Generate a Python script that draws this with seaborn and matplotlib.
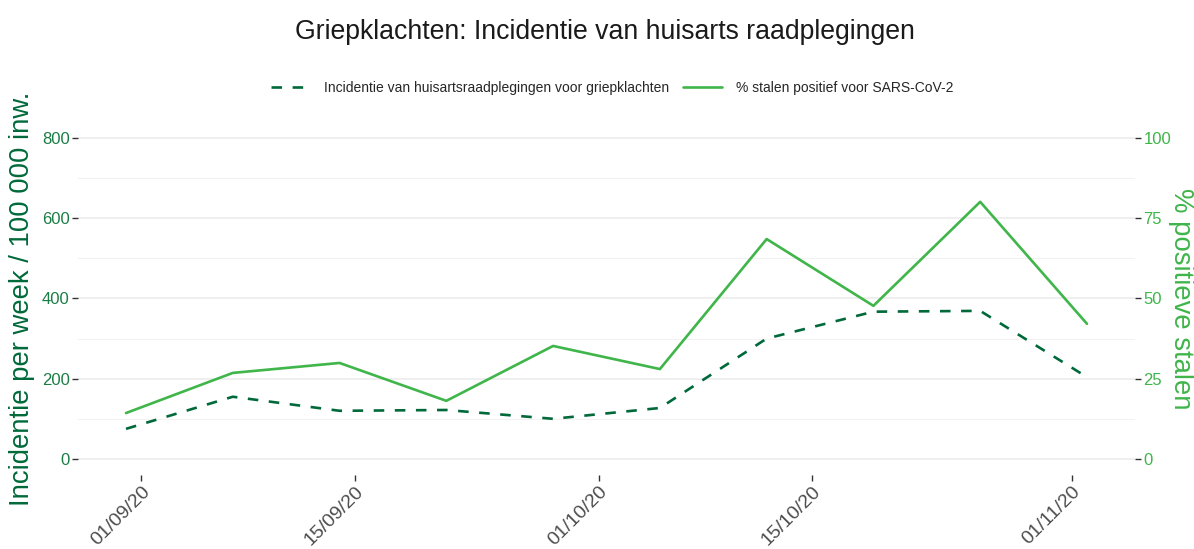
import pandas as pd
import numpy as np
import matplotlib
matplotlib.use("Agg")
import matplotlib.pyplot as plt
import matplotlib.dates as mdates
import seaborn as sns

weeks = ["2020-08-31", "2020-09-07", "2020-09-14", "2020-09-21", "2020-09-28",
         "2020-10-05", "2020-10-12", "2020-10-19", "2020-10-26", "2020-11-02"]
incidentie = [75, 155, 120, 122, 100, 127, 300, 367, 369, 204]
pct_positief = [14.3, 26.8, 29.9, 18.1, 35.2, 28.0, 68.5, 47.7, 80.1, 42.1]
tick_dates = ["2020-09-01", "2020-09-15", "2020-10-01", "2020-10-15", "2020-11-01"]

DARK = "#00693a"
LIGHT = "#3fb54a"
LEFT_TXT = "#1a7d45"

df = pd.DataFrame({"week": pd.to_datetime(weeks),
                   "incidentie": incidentie,
                   "positief": pct_positief})

sns.set_theme(style="white")
plt.rcParams["font.family"] = ["Liberation Sans", "DejaVu Sans"]

fig = plt.figure(figsize=(11.94, 5.49), dpi=100)
ax = fig.add_axes([0.0653, 0.1348, 0.8853, 0.6432])
ax2 = ax.twinx()

sns.lineplot(data=df, x="week", y="incidentie", ax=ax, color=DARK, linewidth=1.9,
             label="Incidentie van huisartsraadplegingen voor griepklachten", legend=False)
ax.lines[0].set_dashes((4, 4))
sns.lineplot(data=df, x="week", y="positief", ax=ax2, color=LIGHT, linewidth=1.9,
             label="% stalen positief voor SARS-CoV-2", legend=False)

ax.set_ylim(-40, 840)
ax2.set_ylim(-5, 105)
ax.set_yticks([0, 200, 400, 600, 800])
ax.set_yticks([100, 300, 500, 700], minor=True)
ax2.set_yticks([0, 25, 50, 75, 100])
ax.set_xlim(pd.Timestamp("2020-08-31") - pd.Timedelta(days=3.15),
            pd.Timestamp("2020-11-02") + pd.Timedelta(days=3.15))

ax.grid(axis="y", which="major", color="#ebebeb", linewidth=1.1)
ax.grid(axis="y", which="minor", color="#f2f2f2", linewidth=0.8)
ax.grid(axis="x", visible=False)
ax2.grid(False)
ax.set_axisbelow(True)
for a in (ax, ax2):
    for s in a.spines.values():
        s.set_visible(False)

ax.set_xticks(pd.to_datetime(tick_dates))
ax.xaxis.set_major_formatter(mdates.DateFormatter("%d/%m/%y"))
ax.tick_params(axis="x", length=4, width=1, color="#333333", labelsize=14,
               labelcolor="#4d4d4d", bottom=True, pad=2)
for lab in ax.get_xticklabels():
    lab.set_rotation(45)
    lab.set_ha("right")
    lab.set_rotation_mode("anchor")

ax.tick_params(axis="y", which="major", length=4, width=1, color="#333333",
               labelsize=12, labelcolor=LEFT_TXT, left=True, pad=2)
ax.tick_params(axis="y", which="minor", length=0, left=False)
ax2.tick_params(axis="y", length=4, width=1, color="#333333",
                labelsize=12, labelcolor=LIGHT, right=True, pad=2)

ax.set_xlabel("")
ax.set_ylabel("Incidentie per week / 100 000 inw.", fontsize=19.8, color=DARK,
              va="center", ha="center")
ax.yaxis.set_label_coords(-0.053, 0.5)
ax2.set_ylabel("% positieve stalen", fontsize=19.8, color=LIGHT, rotation=270,
               va="center", ha="center")
ax2.yaxis.set_label_coords(1.0435, 0.5)

fig.suptitle("Griepklachten: Incidentie van huisarts raadplegingen", x=0.507, y=0.965,
             fontsize=19.2, color="#1a1a1a")

h1, l1 = ax.get_legend_handles_labels()
h2, l2 = ax2.get_legend_handles_labels()
fig.legend(h1 + h2, l1 + l2, loc="center", bbox_to_anchor=(0.513, 0.84), ncol=2,
           frameon=False, fontsize=10, handlelength=2.8, columnspacing=1.0, handletextpad=1.0)

fig.savefig("out.png", dpi=100)
